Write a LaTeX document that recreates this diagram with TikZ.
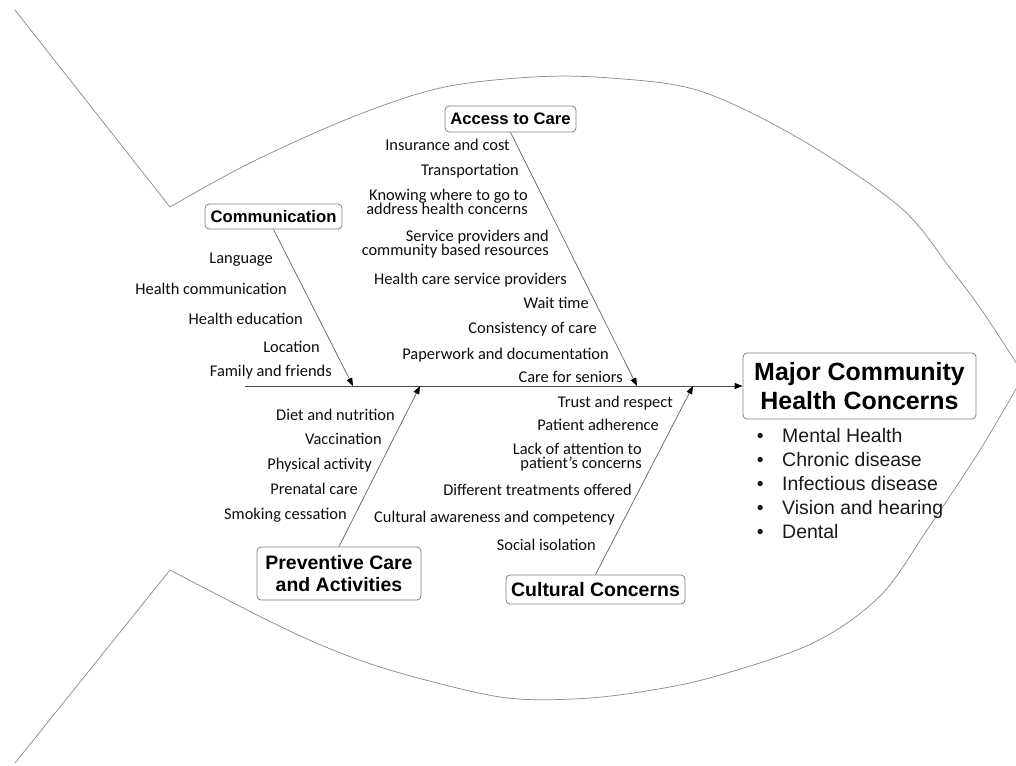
\documentclass[tikz,border=0pt]{standalone}
\usepackage{fontspec}
\setmainfont{Carlito}
\newfontfamily\arialf{Liberation Sans}
\usetikzlibrary{arrows.meta}
\begin{document}
\begin{tikzpicture}[x=0.75pt,y=-0.75pt,
  fish/.style={draw=black!45, line width=0.55pt},
  bone/.style={draw=black!60, line width=0.55pt, -{Triangle[length=6pt,width=4.5pt,color=black]}},
  spine/.style={draw=black!70, line width=0.7pt, -{Triangle[length=6pt,width=4.5pt,color=black]}},
  lab/.style={font=\fontsize{12.3pt}{10.9pt}\selectfont, text=black!95, inner sep=0pt, anchor=base east},
  labtwo/.style={lab, align=right, anchor=east},
  cat/.style={draw=black!50, line width=0.6pt, rounded corners=3pt, inner sep=0pt, align=center, text=black,
              font=\arialf\bfseries\fontsize{12.5pt}{14pt}\selectfont},
  catbig/.style={cat, font=\arialf\bfseries\fontsize{14.6pt}{17.2pt}\selectfont},
  cathead/.style={cat, font=\arialf\bfseries\fontsize{18.7pt}{21.8pt}\selectfont},
  listtext/.style={inner sep=0pt, anchor=base west, text=black!90, font=\arialf\fontsize{14.6pt}{18pt}\selectfont}
]
\useasboundingbox (0,0) rectangle (1016,765);

% fish outline
\draw[fish] (15,10) -- (170,207);
\draw[fish] plot[smooth, tension=0.55] coordinates {(170,207) (250,163) (350,118) (440,88) (533,77) (610,78) (700,91) (800,139) (900,207) (950,268) (983,312) (1024,375)};
\draw[fish] (15,763) -- (170,570);
\draw[fish] plot[smooth, tension=0.55] coordinates {(170,570) (267,620) (333,650) (400,673) (500,697) (573,699) (640,692) (713,677) (813,643) (880,596) (927,530) (980,450) (1024,375)};

% category boxes
\node[cat, minimum width=102.75pt, minimum height=18.75pt] (comm) at (273.5,216.5) {Communication};
\node[cat, minimum width=98.25pt, minimum height=19.5pt] (access) at (510.5,119) {Access to Care};
\node[catbig, minimum width=123pt, minimum height=39.75pt] (prev) at (339,573.5) {Preventive Care\\and Activities};
\node[catbig, minimum width=134.25pt, minimum height=21.75pt] (cult) at (595.5,589.5) {Cultural Concerns};
\node[cathead, minimum width=174.75pt, minimum height=49.5pt] (major) at (859.5,386) {Major Community\\Health Concerns};

% spine
\coordinate (tail) at (245,386);
\coordinate (pc) at (353,386);
\coordinate (pp) at (420,386);
\coordinate (pa) at (637,386);
\coordinate (pk) at (693,386);
\draw[spine] (tail) -- (major.west);

% branches
\draw[bone] (comm.south) -- (pc);
\draw[bone] (access.south) -- (pa);
\draw[bone] (prev.north) -- (pp);
\draw[bone] (cult.north) -- (pk);

% Access to care labels
\node[lab] (a1) at (510,150) {Insurance and cost};
\node[lab] (a2) at (519,175) {Transportation};
\node[labtwo] (a3) at (528,202) {Knowing where to go to\\address health concerns};
\node[labtwo] (a4) at (549,244) {Service providers and\\community based resources};
\node[lab] (a5) at (567,284) {Health care service providers};
\node[lab] (a6) at (589,308) {Wait time};
\node[lab] (a7) at (597,333) {Consistency of care};
\node[lab] (a8) at (609,359) {Paperwork and documentation};
\node[lab] (a9) at (623,382) {Care for seniors};

% Communication labels
\node[lab] (c1) at (273,263) {Language};
\node[lab] (c2) at (287,294) {Health communication};
\node[lab] (c3) at (303,324) {Health education};
\node[lab] (c4) at (320,352) {Location};
\node[lab] (c5) at (332,376) {Family and friends};

% Preventive labels
\node[lab] (p1) at (395,420) {Diet and nutrition};
\node[lab] (p2) at (382,444) {Vaccination};
\node[lab] (p3) at (372,469) {Physical activity};
\node[lab] (p4) at (358,494) {Prenatal care};
\node[lab] (p5) at (347,519) {Smoking cessation};

% Cultural labels
\node[lab] (k1) at (673,407) {Trust and respect};
\node[lab] (k2) at (659,430) {Patient adherence};
\node[labtwo] (k3) at (642,457) {Lack of attention to\\patient’s concerns};
\node[lab] (k4) at (632,495) {Different treatments offered};
\node[lab] (k5) at (615,522) {Cultural awareness and competency};
\node[lab] (k6) at (596,550) {Social isolation};

% concerns list
\node[listtext] (list) at (756.5,442) {\begin{tabular}[t]{@{}l@{\hspace{14pt}}l@{}}
•&Mental Health\\
•&Chronic disease\\
•&Infectious disease\\
•&Vision and hearing\\
•&Dental
\end{tabular}};
\end{tikzpicture}
\end{document}
